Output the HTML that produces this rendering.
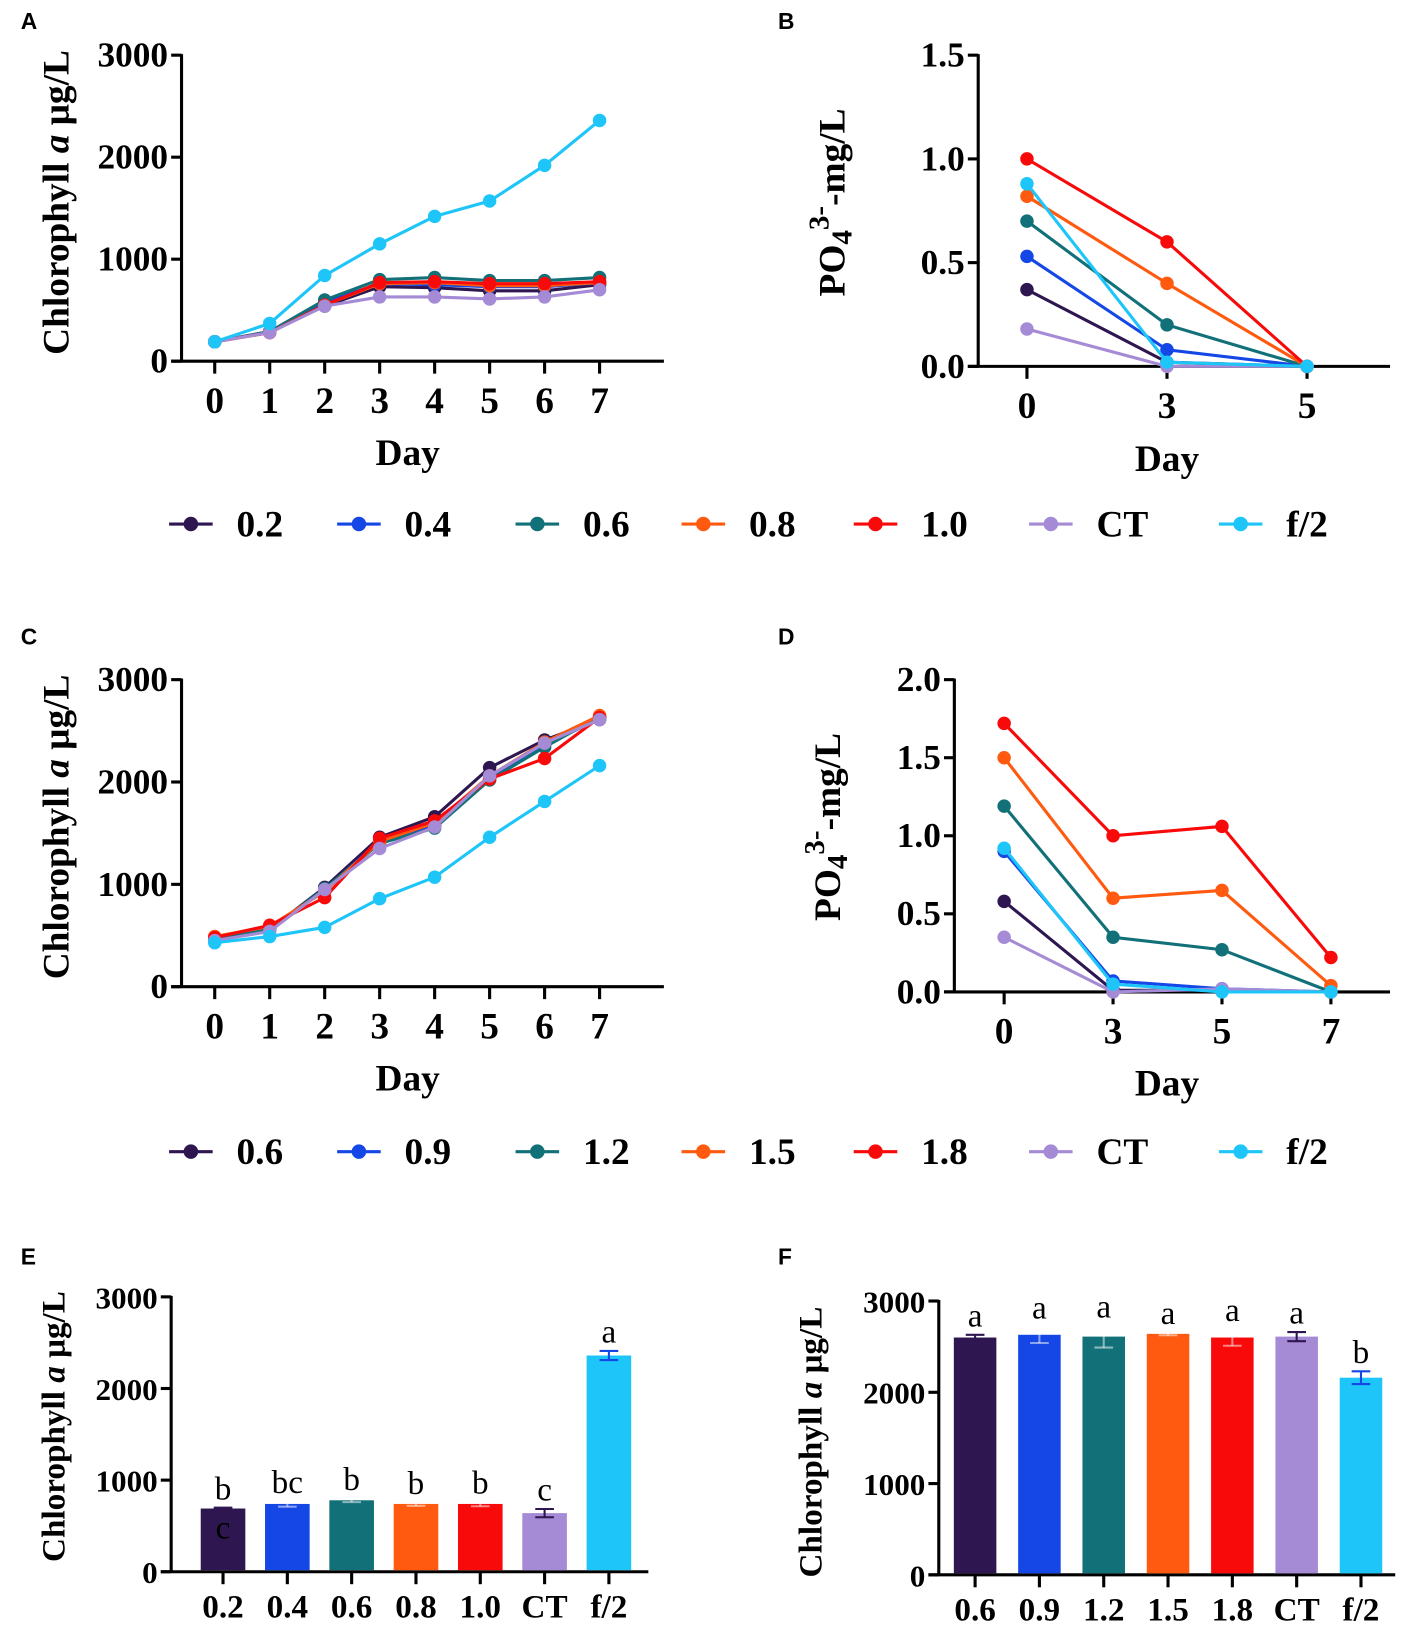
<!DOCTYPE html>
<html><head><meta charset="utf-8">
<style>
html,body{margin:0;padding:0;background:#fff;}
svg{display:block;}
text{font-family:"Liberation Serif",serif;font-weight:bold;fill:#000;}
text.nb{font-weight:normal;}
.pl{font-family:"Liberation Sans",sans-serif;font-size:22px;}
</style></head>
<body>
<svg id="fig" width="1417" height="1629" viewBox="0 0 1366 1570" xmlns="http://www.w3.org/2000/svg"></svg>
<script>
const NS='http://www.w3.org/2000/svg';
const svg=document.getElementById('fig');
// ---- data ----
const colors=['#2e1650','#1447e6','#127078','#ff5a0f','#f90a0a','#a58bd6','#1ec5f8'];
const legendA=['0.2','0.4','0.6','0.8','1.0','CT','f/2'];
const legendC=['0.6','0.9','1.2','1.5','1.8','CT','f/2'];
const daysA=[0,1,2,3,4,5,6,7];
const ticksChl=[0,1000,2000,3000];
const a02=[190,290,540,730,720,690,690,750];
const a04=[190,290,580,760,750,730,730,770];
const a06=[190,290,600,800,820,790,790,820];
const a08=[190,280,550,760,770,740,740,770];
const a10=[190,280,550,770,780,760,760,780];
const aCT=[190,280,540,630,630,610,630,700];
const aF2=[190,370,840,1150,1420,1570,1920,2360];
const daysB=[0,3,5];
const ticksB=[0,0.5,1.0,1.5];
const b02=[0.37,0.02,0];
const b04=[0.53,0.08,0];
const b06=[0.70,0.20,0];
const b08=[0.82,0.40,0];
const b10=[1.00,0.60,0];
const bCT=[0.18,0.0,0];
const bF2=[0.88,0.02,0];
const c06=[470,560,970,1460,1660,2140,2410,2610];
const c09=[470,570,950,1420,1580,2040,2360,2620];
const c12=[460,560,960,1400,1550,2020,2340,2640];
const c15=[490,590,930,1420,1600,2060,2390,2650];
const c18=[480,600,870,1450,1620,2030,2230,2630];
const cCT=[450,540,950,1350,1560,2060,2380,2610];
const cF2=[430,490,580,860,1070,1460,1810,2160];
const daysD=[0,3,5,7];
const ticksD=[0,0.5,1.0,1.5,2.0];
const d06=[0.58,0.01,0.01,0.0];
const d09=[0.90,0.07,0.02,0.0];
const d12=[1.19,0.35,0.27,0.0];
const d15=[1.50,0.60,0.65,0.04];
const d18=[1.72,1.00,1.06,0.22];
const dCT=[0.35,0.0,0.02,0.0];
const dF2=[0.92,0.05,0.0,0.0];
const barE=[690,740,780,740,740,640,2360];
const errE=[10,30,20,20,25,45,50];
const letE=['b','bc','b','b','b','c','a'];
const barF=[2600,2630,2610,2640,2600,2610,2160];
const errF=[30,90,120,15,90,50,70];
const letF=['a','a','a','a','a','a','b'];

function el(tag,attrs,parent){const e=document.createElementNS(NS,tag);for(const k in attrs)e.setAttribute(k,attrs[k]);(parent||svg).appendChild(e);return e;}
function txt(s,x,y,size,attrs,parent){const t=el('text',Object.assign({x:x,y:y,'font-size':size,'text-anchor':'middle'},attrs||{}),parent);t.textContent=s;return t;}

function axes(g,o){
  el('line',{x1:o.x0,y1:o.y1-1,x2:o.x0,y2:o.y0,stroke:'#000','stroke-width':3},g);
  el('line',{x1:o.x0-10,y1:o.y0,x2:o.x1,y2:o.y0,stroke:'#000','stroke-width':3},g);
  o.yt.forEach(v=>{const y=o.ys(v);el('line',{x1:o.x0-10,y1:y,x2:o.x0,y2:y,stroke:'#000','stroke-width':3},g);
    const t=txt(o.fmt(v),o.x0-13,y+11,o.ysz||34,{'text-anchor':'end'},g);
    });
}
function linePanel(name,o,xs,series,labels){
  const g=el('g',{});
  const xsc=i=>o.px0+i*o.dx; // categorical positions
  axes(g,o);
  xs.forEach((d,i)=>{const x=xsc(i);el('line',{x1:x,y1:o.y0,x2:x,y2:o.y0+12,stroke:'#000','stroke-width':3},g);
    const t=txt(String(d),x,o.y0+50,36,{},g);});
  series.forEach((s,i)=>{
    const sg=el('g',{},g);
    const pts=s.map((v,j)=>xsc(j)+','+o.ys(v)).join(' ');
    el('polyline',{points:pts,fill:'none',stroke:colors[i],'stroke-width':3},sg);
    s.forEach((v,j)=>{const c=el('circle',{cx:xsc(j),cy:o.ys(v),r:6.5,fill:colors[i]},sg);});
  });
  return g;
}
function ytitle(g,x,y,parts,size){const t=el('text',{transform:`translate(${x},${y}) rotate(-90)`,'font-size':size||36,'text-anchor':'middle'},g);
  parts.forEach(p=>{const s=el('tspan',p.a||{},t);s.textContent=p.s;});return t;}
const chlParts=[{s:'Chlorophyll '},{s:'a',a:{'font-style':'italic'}},{s:' μg/L'}];
const poParts=[{s:'PO'},{s:'4',a:{'baseline-shift':'-25%','font-size':28}},{s:'3-',a:{'baseline-shift':'55%','font-size':28}},{s:'-mg/L'}];

// Panel A
let oA={x0:175,x1:640,y0:348,y1:53,ys:v=>348-v/3000*295,yt:ticksChl,fmt:v=>String(v),px0:207,dx:53};
let gA=linePanel('panel-a-chart',oA,daysA,[a02,a04,a06,a08,a10,aCT,aF2],legendA);
ytitle(gA,66,195,chlParts);
let t=txt('Day',393,448,36,{},gA);
// Panel B
let oB={x0:943,x1:1340,y0:353,y1:53,ys:v=>353-v/1.5*300,yt:ticksB,fmt:v=>v.toFixed(1),px0:990,dx:135};
let gB=linePanel('panel-b-chart',oB,daysB,[b02,b04,b06,b08,b10,bCT,bF2],legendA);
ytitle(gB,814,195,poParts);
t=txt('Day',1125,454,36,{},gB);
// Panel C
let oC={x0:175,x1:640,y0:951,y1:655,ys:v=>951-v/3000*296,yt:ticksChl,fmt:v=>String(v),px0:207,dx:53};
let gC=linePanel('panel-c-chart',oC,daysA,[c06,c09,c12,c15,c18,cCT,cF2],legendC);
ytitle(gC,66,797,chlParts);
t=txt('Day',393,1051,36,{},gC);
// Panel D
let oD={x0:920,x1:1340,y0:956,y1:655,ys:v=>956-v/2*301,yt:ticksD,fmt:v=>v.toFixed(1),px0:968,dx:105};
let gD=linePanel('panel-d-chart',oD,daysD,[d06,d09,d12,d15,d18,dCT,dF2],legendC);
ytitle(gD,810,797,poParts);
t=txt('Day',1125,1056,36,{},gD);

// Legends
function legend(name,y,labels){
  const g=el('g',{});
  const lx=[163,325,497,657,823,992,1175];
  labels.forEach((l,i)=>{const e=el('g',{},g);
    el('line',{x1:lx[i],y1:y,x2:lx[i]+42,y2:y,stroke:colors[i],'stroke-width':3},e);
    el('circle',{cx:lx[i]+21,cy:y,r:7,fill:colors[i]},e);
    txt(l,lx[i]+65,y+12,36,{'text-anchor':'start'},e);});
}
legend('legend-top',505,legendA);
legend('legend-middle',1110,legendC);

// Bar panels
function barPanel(name,o,cats,vals,errs,lets){
  const g=el('g',{});
  axes(g,o);
  cats.forEach((c,i)=>{const x=o.bx0+i*o.bdx;const y=o.ys(vals[i]);
    const r=el('rect',{x:x-o.bw/2,y:y,width:o.bw,height:o.y0-y-1.5,fill:colors[i]},g);
    
    const ec=i===6?'#1447e6':(i===0||i===5?'#2e1650':'rgba(255,255,255,0.5)');
    const e1=o.ys(vals[i]+errs[i]),e2=o.ys(vals[i]-errs[i]);
    el('line',{x1:x,y1:e1,x2:x,y2:e2,stroke:ec,'stroke-width':2},g);
    el('line',{x1:x-9,y1:e1,x2:x+9,y2:e1,stroke:ec,'stroke-width':2},g);
    el('line',{x1:x-9,y1:e2,x2:x+9,y2:e2,stroke:ec,'stroke-width':2},g);
    el('line',{x1:x,y1:o.y0,x2:x,y2:o.y0+12,stroke:'#000','stroke-width':3},g);
    let tl=txt(c,x,o.y0+44,32,{},g);
    let lt=txt(lets[i],x,e1-8,32,{class:'nb'},g);
  });
  return g;
}
let oE={x0:165,x1:625,y0:1515,y1:1250,ys:v=>1515-v/3000*265,yt:ticksChl,fmt:v=>String(v),ysz:30,bx0:215,bdx:62,bw:43};
let gE=barPanel('panel-e-chart',oE,legendA,barE,errE,letE);
ytitle(gE,62,1375,chlParts,32);
t=txt('c',215,1483,32,{class:'nb'},gE);
let oF={x0:905,x1:1345,y0:1518,y1:1254,ys:v=>1518-v/3000*264,yt:ticksChl,fmt:v=>String(v),ysz:30,bx0:940,bdx:62,bw:41};
let gF=barPanel('panel-f-chart',oF,legendC,barF,errF,letF);
ytitle(gF,792,1390,chlParts,32);

// panel letters
[['A',20,28],['B',750,28],['C',20,621],['D',750,621],['E',20,1219],['F',750,1219]].forEach(p=>{
  const l=txt(p[0],p[1],p[2],23,{'text-anchor':'start',class:'pl'});});
</script>
</body></html>
